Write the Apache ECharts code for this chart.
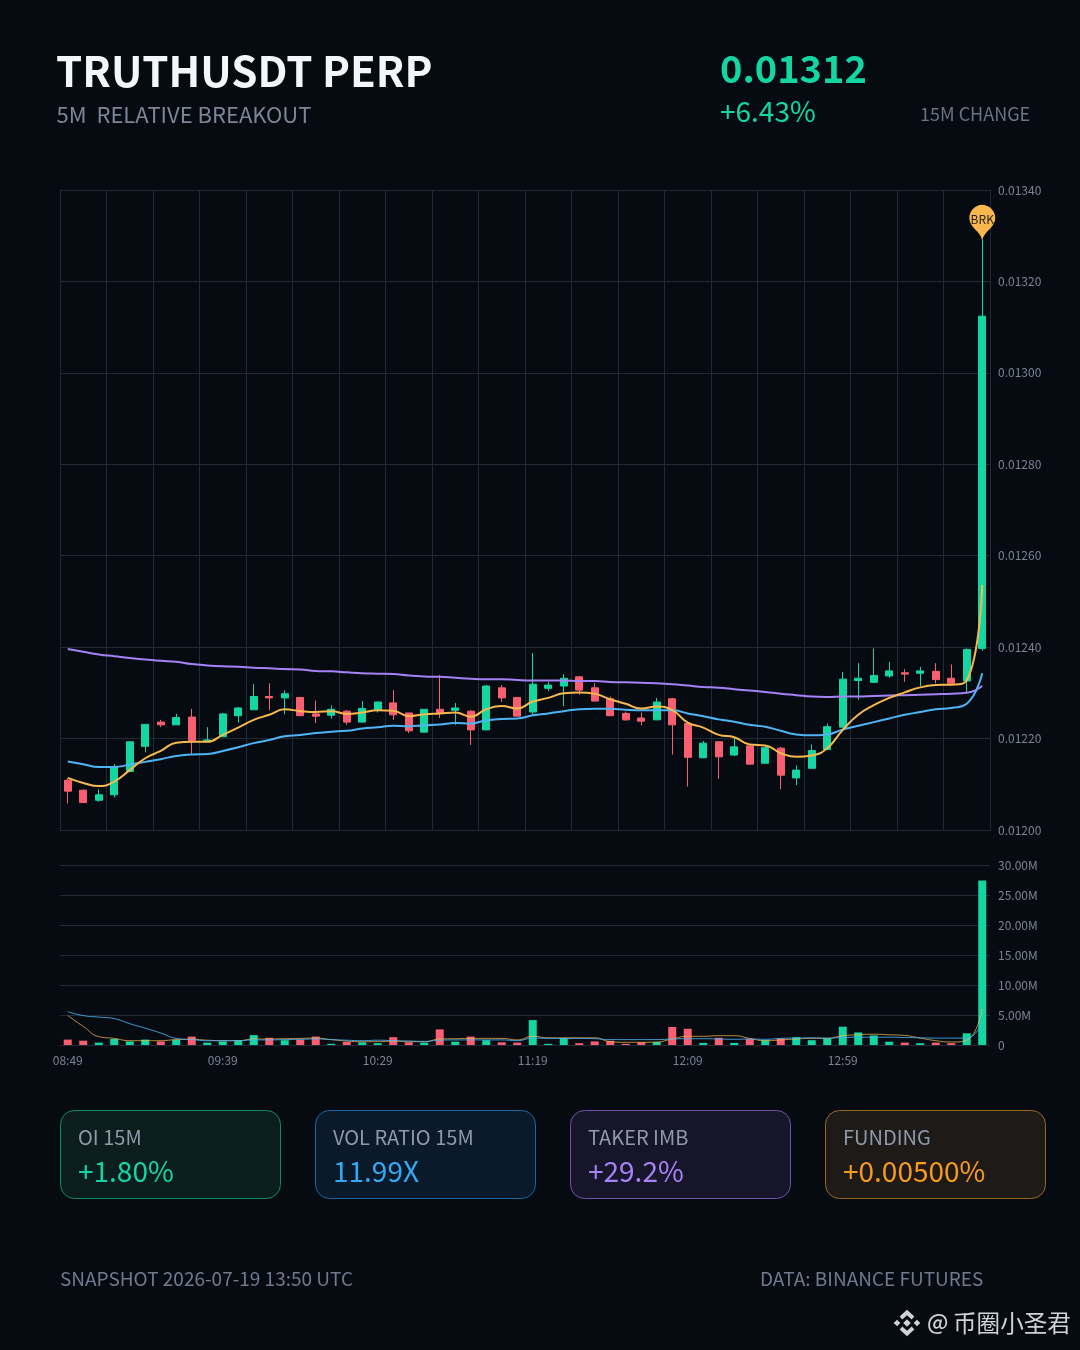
<!DOCTYPE html>
<html><head><meta charset="utf-8">
<style>html,body{margin:0;padding:0;background:#060b12}#c{width:1080px;height:1350px}</style>
<script src="https://cdn.jsdelivr.net/npm/echarts@6/dist/echarts.min.js"></script>
</head><body><div id="c"></div>
<script>
const START_MINUTES = 8*60+49, STEP = 5, COUNT = 60;
const categories = Array.from({length:COUNT},(_,i)=>{const m=START_MINUTES+i*STEP;return String(Math.floor(m/60)).padStart(2,'0')+':'+String(m%60).padStart(2,'0');});
// prices, in millionths
const opens=[12109,12087,12065,12077,12128,12183,12236,12230,12247,12193,12204,12250,12263,12292,12289,12290,12254,12251,12260,12236,12264,12278,12256,12214,12264,12262,12260,12219,12311,12290,12258,12310,12315,12335,12311,12287,12255,12245,12241,12287,12233,12158,12193,12164,12184,12146,12179,12114,12135,12176,12225,12327,12323,12337,12344,12343,12347,12332,12326,12397];
const closes=[12085,12060,12077,12137,12193,12231,12230,12246,12196,12197,12254,12267,12292,12289,12298,12250,12249,12264,12236,12266,12280,12252,12217,12264,12255,12267,12219,12315,12289,12249,12319,12317,12332,12306,12282,12250,12241,12238,12280,12230,12159,12190,12160,12182,12144,12180,12120,12131,12174,12226,12330,12332,12338,12348,12341,12348,12329,12321,12395,13124];
const lows=[12058,12060,12062,12071,12128,12170,12225,12230,12164,12193,12204,12235,12263,12262,12253,12250,12234,12243,12230,12236,12257,12241,12212,12214,12245,12230,12186,12219,12280,12249,12252,12304,12271,12296,12282,12250,12239,12229,12241,12165,12095,12157,12112,12162,12144,12146,12089,12098,12135,12176,12225,12285,12322,12333,12324,12315,12321,12321,12301,12392];
const highs=[12113,12089,12089,12144,12193,12232,12241,12254,12265,12225,12256,12269,12319,12321,12306,12290,12283,12273,12262,12282,12280,12306,12256,12264,12339,12278,12262,12317,12317,12290,12387,12324,12341,12337,12321,12292,12259,12257,12289,12289,12233,12195,12193,12201,12184,12184,12182,12141,12187,12233,12346,12365,12397,12368,12352,12357,12365,12362,12397,13292];
const maFast=[12114,12103,12096,12106,12131,12157,12173,12191,12193,12193,12208,12224,12241,12252,12264,12260,12258,12260,12254,12257,12262,12261,12249,12253,12255,12257,12248,12264,12271,12266,12281,12289,12299,12301,12298,12286,12276,12266,12270,12262,12235,12224,12208,12203,12187,12185,12168,12160,12163,12179,12219,12252,12273,12289,12301,12312,12317,12318,12327,12536];
const maMid=[12150,12144,12138,12138,12143,12149,12155,12162,12165,12166,12173,12181,12190,12197,12205,12208,12212,12215,12217,12222,12225,12228,12227,12229,12231,12234,12233,12240,12243,12244,12251,12255,12260,12264,12265,12265,12263,12262,12262,12262,12255,12249,12242,12237,12230,12226,12217,12209,12207,12209,12220,12228,12236,12244,12252,12258,12264,12267,12276,12343];
const maSlow=[12396,12390,12384,12380,12376,12373,12370,12368,12363,12360,12358,12357,12355,12354,12352,12351,12348,12347,12345,12343,12342,12341,12338,12336,12335,12333,12331,12330,12330,12328,12327,12327,12327,12326,12326,12324,12323,12322,12321,12319,12316,12313,12311,12308,12305,12302,12298,12295,12292,12291,12292,12292,12293,12294,12295,12296,12297,12298,12300,12315];
// volume, millions
const volumes=[0.9,0.72,0.4,1.0,0.6,0.9,0.6,0.85,1.4,0.4,0.6,0.8,1.65,1.2,0.8,0.9,1.4,0.2,0.5,0.45,0.3,1.3,0.45,0.4,2.6,0.55,1.4,0.8,0.45,0.4,4.15,0.2,1.15,0.3,0.6,0.7,0.2,0.45,0.5,3.0,2.7,0.35,1.2,0.35,1.0,0.8,1.1,1.3,0.8,1.1,3.05,2.1,1.6,0.55,0.4,0.3,0.4,0.3,1.95,27.4];
const volFast=[4.9,3.1,1.4,1.1,0.72,0.72,0.72,0.9,0.95,0.8,0.72,0.72,1,1,1.05,1.1,1.15,0.9,0.65,0.55,0.55,0.65,0.55,0.55,1,1.05,1.1,1.1,1.1,0.85,1.45,1.2,1.2,1.2,1.2,0.55,0.45,0.45,0.5,1,1.45,1.45,1.55,1.55,1.1,0.72,0.85,1,1.1,1.1,1.55,1.7,1.8,1.7,1.6,1.15,0.72,0.5,0.8,6.05];
const volSlow=[5.55,4.9,4.65,4.4,3.55,2.8,2,1.1,0.9,0.72,0.72,0.72,0.85,0.85,0.9,0.95,1,0.9,0.8,0.72,0.8,0.72,0.67,0.6,0.8,0.85,0.85,0.85,0.85,0.72,1.15,1.1,1.1,1.1,1.05,0.9,0.9,0.9,0.9,1,1.05,1.05,1,0.95,1,0.95,1.1,1.15,1.2,1.15,1.25,1.3,1.3,1.3,1.25,1.2,1.15,1.15,1.15,3.8];
const priceTicks={min:0.012,max:0.0134,interval:0.0002};
const volumeTicks={min:0,max:30,interval:5};
const FONT='"Noto Sans CJK SC","Noto Sans",sans-serif';
const UP='#14d6a2',DOWN='#f95f70',GRID='#202b38',AXT='#7a8594';
const toPrice=v=>v/1e6;
const candleData=categories.map((_,i)=>[toPrice(opens[i]),toPrice(closes[i]),toPrice(lows[i]),toPrice(highs[i])]);

function txt(x,y,text,size,fill,extra){return {type:'text',x,y,style:Object.assign({text,fontFamily:FONT,fontSize:size,fill,verticalAlign:'middle'},extra||{})};}
function card(x,bg,bd,label,val,col){return [
 {type:'rect',shape:{x:x+.5,y:1110.5,width:220,height:88,r:14},style:{fill:bg,stroke:bd,lineWidth:1}},
 txt(x+18,1137,label,20,'#8f99aa'),
 txt(x+18,1171,val,28,col)];}
const logo=(cx,cy)=>{const d=(x,y,r)=>({type:'polygon',shape:{points:[[x,y-r],[x+r,y],[x,y+r],[x-r,y]]},style:{fill:'#cfd3d8'}});
 const chev=(pts)=>({type:'polyline',shape:{points:pts},style:{stroke:'#cfd3d8',lineWidth:4,fill:null}});
 return [d(cx-10,cy,3.3),d(cx+10,cy,3.3),d(cx,cy,3.8),
 chev([[cx-6,cy-5],[cx,cy-10.5],[cx+6,cy-5]]),
 chev([[cx-6,cy+5],[cx,cy+10.5],[cx+6,cy+5]])];};

const chart=echarts.init(document.getElementById('c'),null,{renderer:'canvas',width:1080,height:1350});
chart.setOption({
 animation:false,backgroundColor:'#060b12',
 grid:[{left:60,right:90,top:190,height:640,show:false},{left:60,right:90,top:865,height:180,show:false}],
 xAxis:[
  {type:'category',data:categories,gridIndex:0,boundaryGap:true,axisLabel:{show:false},axisTick:{show:false},
   axisLine:{show:true,lineStyle:{color:'#1f2a38'}},splitLine:{show:true,interval:2,lineStyle:{color:GRID,width:1}}},
  {type:'category',data:categories,gridIndex:1,boundaryGap:true,axisTick:{show:false},
   axisLine:{show:true,lineStyle:{color:'#1f2a38'}},splitLine:{show:false},
   axisLabel:{interval:9,color:AXT,fontSize:12,fontFamily:FONT,margin:9}}],
 yAxis:[
  {type:'value',gridIndex:0,position:'right',scale:false,min:priceTicks.min,max:priceTicks.max,interval:priceTicks.interval,
   axisLine:{show:true,lineStyle:{color:'#1f2a38'}},axisTick:{show:false},splitLine:{lineStyle:{color:GRID,width:1}},
   axisLabel:{color:AXT,fontSize:12,fontFamily:FONT,margin:8,padding:[4,0,0,0],formatter:v=>v.toFixed(5)}},
  {type:'value',gridIndex:1,position:'right',min:volumeTicks.min,max:volumeTicks.max,interval:volumeTicks.interval,
   axisLine:{show:false},axisTick:{show:false},splitLine:{lineStyle:{color:GRID,width:1}},
   axisLabel:{color:AXT,fontSize:12,fontFamily:FONT,margin:8,padding:[4,0,0,0],formatter:v=>v===0?'0':v.toFixed(2)+'M'}}],
 series:[
  {type:'candlestick',name:'price',xAxisIndex:0,yAxisIndex:0,data:candleData,barWidth:7.5,
   itemStyle:{color:UP,color0:DOWN,borderColor:UP,borderColor0:DOWN,borderWidth:1},
   markPoint:{symbol:'pin',symbolSize:43,symbolOffset:[0,3],silent:true,itemStyle:{color:'#f8b84e'},
    label:{show:true,formatter:'BRK',color:'#2a2212',fontSize:12,fontFamily:FONT},
    data:[{name:'BRK',coord:[categories[COUNT-1],toPrice(highs[COUNT-1])]}]}},
  {type:'line',name:'slow',data:maSlow.map(toPrice),smooth:true,showSymbol:false,lineStyle:{color:'#a582f5',width:2},z:3},
  {type:'line',name:'mid',data:maMid.map(toPrice),smooth:true,showSymbol:false,lineStyle:{color:'#4eb4f5',width:2},z:4},
  {type:'line',name:'fast',data:maFast.map(toPrice),smooth:true,showSymbol:false,lineStyle:{color:'#f8b84e',width:2},z:5},
  {type:'bar',name:'vol',xAxisIndex:1,yAxisIndex:1,barWidth:8,
   data:volumes.map((v,i)=>({value:v,itemStyle:{color:closes[i]>=opens[i]?UP:DOWN}}))},
  {type:'line',name:'volFast',xAxisIndex:1,yAxisIndex:1,data:volFast,smooth:true,showSymbol:false,lineStyle:{color:'#f8b84e',width:1,opacity:.75}},
  {type:'line',name:'volSlow',xAxisIndex:1,yAxisIndex:1,data:volSlow,smooth:true,showSymbol:false,lineStyle:{color:'#4eb4f5',width:1,opacity:.85}}
 ],
 graphic:[
  {type:'rect',shape:{x:60.5,y:190.5,width:930,height:640},style:{fill:null,stroke:'#1f2a38',lineWidth:1},z:1,silent:true},
  txt(56,71,'TRUTHUSDT PERP',42,'#f3f6fa',{fontWeight:700}),
  txt(56.5,115,'5M  RELATIVE BREAKOUT',22,'#7b8696'),
  txt(720,69,'0.01312',38,'#14d6a2',{fontWeight:700}),
  txt(720,111,'+6.43%',28,'#14d6a2'),
  txt(920,114,'15M CHANGE',18,'#697484'),
  ...card(60,'#0c1d1e','#118a67','OI 15M','+1.80%','#14d6a2'),
  ...card(315,'#0b1a2a','#1d669f','VOL RATIO 15M','11.99X','#33a8f5'),
  ...card(570,'#16152a','#6d55a8','TAKER IMB','+29.2%','#a582f5'),
  ...card(825,'#1d1a17','#9a6a25','FUNDING','+0.00500%','#f79a1e'),
  txt(60,1279,'SNAPSHOT 2026-07-19 13:50 UTC',19,'#6f7b8c'),
  txt(760,1279,'DATA: BINANCE FUTURES',19,'#6f7b8c'),
  ...logo(907,1323),
  txt(927,1322,'@',22,'#cfd3d8',{fontWeight:500}),
  txt(953,1323,'币圈小圣君',23.6,'#cfd3d8')
 ]
});
</script></body></html>
